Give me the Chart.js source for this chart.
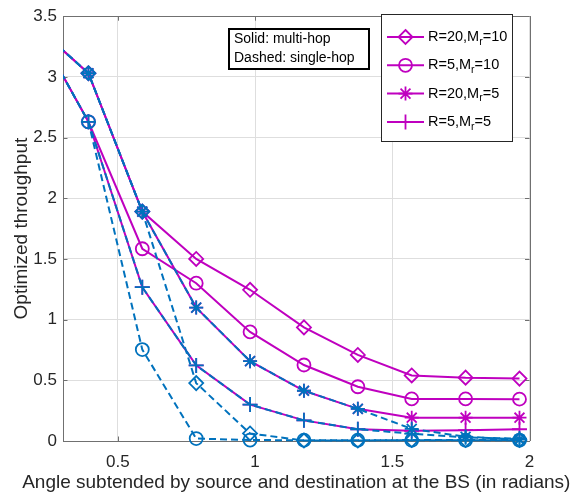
<!DOCTYPE html>
<html><head><meta charset="utf-8">
<script src="https://cdn.jsdelivr.net/npm/chart.js@4.4.0/dist/chart.umd.min.js"></script>
<style>html,body{margin:0;padding:0;background:#fff}#wrap{width:582px;height:495px;position:relative}</style>
</head><body><div id="wrap"><canvas id="c" width="582" height="495"></canvas></div>
<script>
// ---- data ----
const angles = [0.1963, 0.3927, 0.5890, 0.7854, 0.9817, 1.1781, 1.3744, 1.5708, 1.7671, 1.9635];
const multiR20M10 = [3.43, 3.03, 1.89, 1.50, 1.246, 0.936, 0.709, 0.54, 0.522, 0.514];
const multiR5M10  = [3.43, 2.63, 1.584, 1.30, 0.899, 0.626, 0.447, 0.347, 0.347, 0.345];
const multiR20M5  = [3.43, 3.03, 1.89, 1.099, 0.658, 0.414, 0.265, 0.192, 0.192, 0.192];
const multiR5M5   = [3.43, 2.63, 1.267, 0.623, 0.30, 0.17, 0.097, 0.084, 0.089, 0.097];
const singleR20M10 = [3.43, 3.03, 1.89, 0.477, 0.062, 0.004, 0.004, 0.008, 0.008, 0.008];
const singleR5M10  = [3.43, 2.63, 0.753, 0.02, 0.008, 0.006, 0.006, 0.006, 0.006, 0.006];
const singleR20M5  = [3.43, 3.03, 1.89, 1.099, 0.658, 0.414, 0.265, 0.10, 0.035, 0.012];
const singleR5M5   = [3.43, 2.63, 1.267, 0.623, 0.30, 0.17, 0.097, 0.06, 0.03, 0.02];
const xTicks = [0.5, 1, 1.5, 2];
const yTicks = [0, 0.5, 1, 1.5, 2, 2.5, 3, 3.5];
const legendMain = ['R=20,M', 'R=5,M', 'R=20,M', 'R=5,M'];
const legendSub = ['r', 'r', 'r', 'r'];
const legendTail = ['=10', '=10', '=5', '=5'];
const legendStyles = ['rectRot', 'circle', 'star', 'cross'];
const noteLines = ['Solid: multi-hop', 'Dashed: single-hop'];
const xTitle = 'Angle subtended by source and destination at the BS (in radians)';
const yTitle = 'Optimized throughput';

// ---- styles ----
const MAG = '#BF00BF', BLUE = '#0072BD';
const FONT = "'Liberation Sans', Arial, Helvetica, sans-serif";
const radii = {rectRot: 7, circle: 6.5, star: 7, cross: 7.5};

function ds(label, data, color, style, dashed, order) {
  return {
    label, data: data.map((y, i) => ({x: angles[i], y})),
    borderColor: color, backgroundColor: 'rgba(0,0,0,0)', borderWidth: 2,
    borderDash: dashed ? [7, 4] : [],
    pointStyle: style, pointRadius: radii[style], pointHoverRadius: radii[style],
    pointBorderWidth: 1.8, pointBorderColor: color, pointBackgroundColor: 'rgba(0,0,0,0)',
    tension: 0, order,
    clip: {left: 0, top: false, right: false, bottom: false}
  };
}

const datasets = [
  ds('multi R20M10', multiR20M10, MAG, 'rectRot', false, 10),
  ds('multi R5M10', multiR5M10, MAG, 'circle', false, 9),
  ds('multi R20M5', multiR20M5, MAG, 'star', false, 8),
  ds('multi R5M5', multiR5M5, MAG, 'cross', false, 7),
  ds('single R20M10', singleR20M10, BLUE, 'rectRot', true, 6),
  ds('single R5M10', singleR5M10, BLUE, 'circle', true, 5),
  ds('single R20M5', singleR20M5, BLUE, 'star', true, 4),
  ds('single R5M5', singleR5M5, BLUE, 'cross', true, 3)
];

function drawMarker(ctx, style, r, x, y) {
  ctx.beginPath();
  if (style === 'rectRot') {
    ctx.moveTo(x, y - r); ctx.lineTo(x + r, y); ctx.lineTo(x, y + r); ctx.lineTo(x - r, y); ctx.closePath();
  } else if (style === 'circle') {
    ctx.arc(x, y, r, 0, Math.PI * 2);
  } else if (style === 'cross') {
    ctx.moveTo(x - r, y); ctx.lineTo(x + r, y); ctx.moveTo(x, y - r); ctx.lineTo(x, y + r);
  } else if (style === 'star') {
    const d = r * Math.SQRT1_2;
    ctx.moveTo(x - r, y); ctx.lineTo(x + r, y); ctx.moveTo(x, y - r); ctx.lineTo(x, y + r);
    ctx.moveTo(x - d, y - d); ctx.lineTo(x + d, y + d); ctx.moveTo(x - d, y + d); ctx.lineTo(x + d, y - d);
  }
  ctx.stroke();
}

const framePlugin = {
  id: 'frame',
  beforeDatasetsDraw(chart) {
    const {ctx, chartArea: a, scales: {x, y}} = chart;
    ctx.save();
    ctx.strokeStyle = '#707070'; ctx.lineWidth = 1;
    ctx.beginPath();
    ctx.moveTo(a.left, Math.round(a.top) + 0.5); ctx.lineTo(a.right, Math.round(a.top) + 0.5);
    ctx.moveTo(Math.round(a.right) + 0.5, a.top); ctx.lineTo(Math.round(a.right) + 0.5, a.bottom);
    const L = 4.5;
    xTicks.forEach(v => {
      const px = Math.round(x.getPixelForValue(v)) + 0.5;
      ctx.moveTo(px, a.bottom); ctx.lineTo(px, a.bottom - L);
      ctx.moveTo(px, a.top); ctx.lineTo(px, a.top + L);
    });
    yTicks.forEach(v => {
      const py = Math.round(y.getPixelForValue(v)) + 0.5;
      ctx.moveTo(a.left, py); ctx.lineTo(a.left + L, py);
      ctx.moveTo(a.right, py); ctx.lineTo(a.right - L, py);
    });
    ctx.stroke();
    ctx.restore();
  },
  afterDraw(chart) {
    const ctx = chart.ctx;
    const a = chart.chartArea;
    ctx.save();
    // x axis title (drawn here so it is not squeezed to the plot width)
    ctx.fillStyle = '#262626'; ctx.font = '19px ' + FONT;
    ctx.textAlign = 'center'; ctx.textBaseline = 'middle';
    ctx.fillText(xTitle, (a.left + a.right) / 2, 483);
    // annotation box
    ctx.textAlign = 'left';
    ctx.fillStyle = '#fff'; ctx.fillRect(229, 29, 140, 40);
    ctx.strokeStyle = '#000'; ctx.lineWidth = 2; ctx.strokeRect(229, 29, 140, 40);
    ctx.fillStyle = '#000'; ctx.font = '14px ' + FONT; ctx.textBaseline = 'middle';
    noteLines.forEach((t, i) => ctx.fillText(t, 234, 39 + i * 19));
    // legend box
    const bx = 381.5, by = 14.5, bw = 131, bh = 127;
    ctx.fillStyle = '#fff'; ctx.fillRect(bx, by, bw, bh);
    ctx.strokeStyle = '#262626'; ctx.lineWidth = 1; ctx.strokeRect(bx, by, bw, bh);
    for (let i = 0; i < 4; i++) {
      const yy = 37 + i * 28.3;
      ctx.strokeStyle = MAG; ctx.lineWidth = 2;
      ctx.beginPath(); ctx.moveTo(387, yy); ctx.lineTo(424, yy); ctx.stroke();
      ctx.lineWidth = 1.8;
      drawMarker(ctx, legendStyles[i], radii[legendStyles[i]], 405.5, yy);
      ctx.fillStyle = '#000'; ctx.textBaseline = 'middle';
      ctx.font = '14.5px ' + FONT;
      let tx = 428;
      ctx.fillText(legendMain[i], tx, yy);
      tx += ctx.measureText(legendMain[i]).width;
      ctx.font = '10.5px ' + FONT;
      ctx.fillText(legendSub[i], tx, yy + 5);
      tx += ctx.measureText(legendSub[i]).width;
      ctx.font = '14.5px ' + FONT;
      ctx.fillText(legendTail[i], tx, yy);
    }
    ctx.restore();
  }
};

new Chart(document.getElementById('c'), {
  type: 'line',
  data: {datasets},
  options: {
    responsive: false, animation: false, devicePixelRatio: 1,
    events: [],
    layout: {padding: {left: 0, right: 52.5, top: 10, bottom: 0}},
    plugins: {legend: {display: false}, tooltip: {enabled: false}},
    scales: {
      x: {
        type: 'linear', min: 0.3, max: 2,
        afterBuildTicks: s => { s.ticks = xTicks.map(v => ({value: v})); },
        afterFit: s => { s.height = 54; },
        grid: {color: '#dedede', lineWidth: 1, drawTicks: false},
        border: {color: '#707070', width: 1},
        ticks: {color: '#262626', font: {family: FONT, size: 17}, padding: 11, maxRotation: 0,
                callback: v => String(v)},
        title: {display: false, text: xTitle}
      },
      y: {
        type: 'linear', min: 0, max: 3.5,
        afterBuildTicks: s => { s.ticks = yTicks.map(v => ({value: v})); },
        afterFit: s => { s.width = 63; },
        grid: {color: '#dedede', lineWidth: 1, drawTicks: false},
        border: {color: '#707070', width: 1},
        ticks: {color: '#262626', font: {family: FONT, size: 17}, padding: 6,
                callback: v => String(v)},
        title: {display: true, text: yTitle, color: '#262626', font: {family: FONT, size: 19}, padding: {top: 10.6, bottom: 0}}
      }
    }
  },
  plugins: [framePlugin]
});
</script>
</body></html>
